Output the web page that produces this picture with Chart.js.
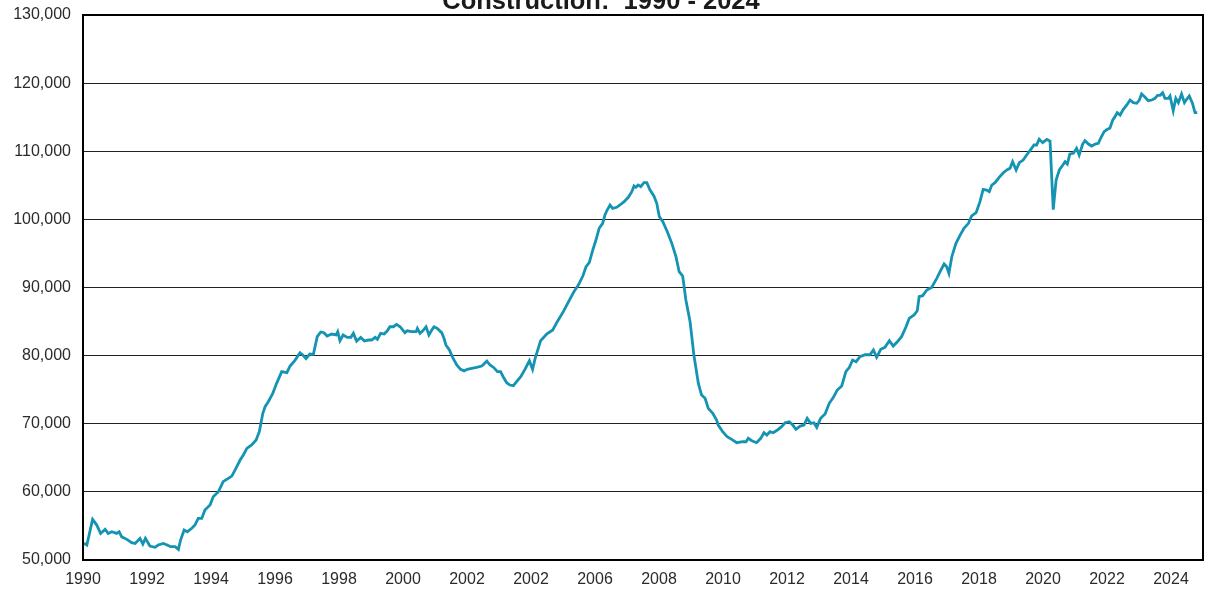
<!DOCTYPE html>
<html>
<head>
<meta charset="utf-8">
<title>Construction: 1990 - 2024</title>
<script src="https://cdn.jsdelivr.net/npm/chart.js@4.4.1/dist/chart.umd.min.js"></script>
<style>
  body { margin: 0; background: #fff; }
  #wrap { width: 1217px; height: 592px; }
</style>
</head>
<body>
<div id="wrap"><canvas id="myChart" width="1217" height="592"></canvas></div>
<script>
// construction employment, thousands of jobs
const years = [
  1990.03, 1990.12, 1990.30, 1990.43, 1990.55, 1990.69, 1990.79, 1990.90, 1991.05, 1991.13,
  1991.21, 1991.37, 1991.52, 1991.63, 1991.78, 1991.87, 1991.95, 1992.09, 1992.25, 1992.35,
  1992.51, 1992.63, 1992.74, 1992.88, 1992.98, 1993.05, 1993.16, 1993.26, 1993.40, 1993.50,
  1993.60, 1993.71, 1993.81, 1993.97, 1994.07, 1994.23, 1994.38, 1994.54, 1994.65, 1994.75,
  1994.91, 1995.01, 1995.12, 1995.27, 1995.41, 1995.51, 1995.62, 1995.69, 1995.79, 1995.93,
  1996.05, 1996.21, 1996.37, 1996.47, 1996.63, 1996.78, 1996.87, 1996.97, 1997.09, 1997.20,
  1997.32, 1997.43, 1997.53, 1997.63, 1997.77, 1997.91, 1997.96, 1998.03, 1998.13, 1998.26,
  1998.37, 1998.45, 1998.55, 1998.68, 1998.79, 1998.92, 1999.02, 1999.13, 1999.20, 1999.30,
  1999.41, 1999.51, 1999.59, 1999.70, 1999.80, 1999.91, 2000.06, 2000.13, 2000.27, 2000.41,
  2000.45, 2000.53, 2000.62, 2000.72, 2000.81, 2000.90, 2000.97, 2001.07, 2001.21, 2001.28,
  2001.34, 2001.45, 2001.55, 2001.68, 2001.80, 2001.91, 2002.01, 2002.15, 2002.30, 2002.46,
  2002.53, 2002.62, 2002.72, 2002.84, 2002.95, 2003.05, 2003.13, 2003.24, 2003.34, 2003.45,
  2003.55, 2003.68, 2003.81, 2003.95, 2004.05, 2004.13, 2004.30, 2004.49, 2004.68, 2004.82,
  2005.01, 2005.20, 2005.34, 2005.48, 2005.62, 2005.72, 2005.82, 2005.93, 2006.03, 2006.13,
  2006.24, 2006.31, 2006.38, 2006.47, 2006.55, 2006.68, 2006.78, 2006.91, 2007.04, 2007.15,
  2007.22, 2007.28, 2007.35, 2007.43, 2007.53, 2007.62, 2007.72, 2007.84, 2007.93, 2008.01,
  2008.12, 2008.26, 2008.40, 2008.53, 2008.63, 2008.74, 2008.84, 2008.97, 2009.09, 2009.23,
  2009.33, 2009.44, 2009.54, 2009.68, 2009.80, 2009.85, 2009.99, 2010.13, 2010.27, 2010.43,
  2010.62, 2010.72, 2010.79, 2010.90, 2011.05, 2011.18, 2011.28, 2011.37, 2011.47, 2011.57,
  2011.70, 2011.83, 2011.94, 2012.07, 2012.18, 2012.28, 2012.41, 2012.53, 2012.63, 2012.74,
  2012.84, 2012.93, 2013.05, 2013.19, 2013.32, 2013.45, 2013.57, 2013.71, 2013.84, 2013.95,
  2014.05, 2014.16, 2014.28, 2014.44, 2014.59, 2014.70, 2014.80, 2014.93, 2015.06, 2015.20,
  2015.32, 2015.45, 2015.58, 2015.72, 2015.82, 2015.97, 2016.07, 2016.13, 2016.24, 2016.37,
  2016.52, 2016.68, 2016.80, 2016.91, 2016.99, 2017.06, 2017.15, 2017.28, 2017.41, 2017.53,
  2017.67, 2017.77, 2017.91, 2018.03, 2018.13, 2018.24, 2018.32, 2018.40, 2018.50, 2018.63,
  2018.76, 2018.87, 2018.97, 2019.05, 2019.16, 2019.26, 2019.38, 2019.49, 2019.62, 2019.72,
  2019.80, 2019.88, 2019.99, 2020.12, 2020.22, 2020.32, 2020.41, 2020.51, 2020.62, 2020.69,
  2020.76, 2020.84, 2020.95, 2021.05, 2021.13, 2021.24, 2021.31, 2021.42, 2021.52, 2021.63,
  2021.73, 2021.80, 2021.91, 2022.01, 2022.09, 2022.18, 2022.25, 2022.32, 2022.41, 2022.51,
  2022.62, 2022.72, 2022.82, 2022.93, 2023.01, 2023.08, 2023.19, 2023.29, 2023.40, 2023.50,
  2023.58, 2023.66, 2023.74, 2023.81, 2023.92, 2023.97, 2024.07, 2024.15, 2024.23, 2024.33,
  2024.42, 2024.49, 2024.57, 2024.67, 2024.75, 2024.82
];

const jobs = [
  52450, 52200, 55970, 55130, 53900, 54500, 53900, 54150, 53900, 54150,
  53400, 53030, 52540, 52440, 53180, 52340, 53180, 52050, 51860, 52200,
  52440, 52200, 51950, 51950, 51560, 52930, 54400, 54150, 54650, 55130,
  56100, 56100, 57330, 58070, 59290, 60020, 61500, 61990, 62320, 63200,
  64670, 65410, 66390, 66880, 67610, 68830, 71530, 72500, 73230, 74460,
  75930, 77640, 77490, 78470, 79350, 80430, 80090, 79550, 80230, 80190,
  82780, 83470, 83370, 82880, 83170, 83030, 83510, 82190, 83030, 82680,
  82680, 83270, 82140, 82680, 82140, 82290, 82290, 82680, 82390, 83270,
  83170, 83650, 84240, 84240, 84590, 84240, 83370, 83650, 83510, 83510,
  84000, 83270, 83650, 84240, 83030, 83760, 84240, 84000, 83370, 82540,
  81560, 80820, 79750, 78620, 77990, 77740, 77990, 78140, 78280, 78470,
  78770, 79210, 78620, 78230, 77640, 77640, 76900, 76020, 75680, 75580,
  76170, 76900, 77990, 79250, 77990, 79600, 82190, 83170, 83760, 84980,
  86450, 88160, 89380, 90360, 91680, 93050, 93640, 95500, 96970, 98690,
  99420, 100640, 101370, 102110, 101620, 101770, 102110, 102600, 103240, 104060,
  104900, 104710, 105040, 104800, 105380, 105380, 104310, 103430, 102360, 100400,
  99660, 98190, 96480, 94520, 92320, 91680, 88160, 85000, 80100, 75930,
  74210, 73730, 72260, 71530, 70550, 69810, 68830, 68100, 67710, 67220,
  67360, 67360, 67860, 67510, 67220, 67860, 68680, 68340, 68830, 68680,
  69080, 69570, 70150, 70300, 69810, 69180, 69660, 69810, 70790, 70060,
  70150, 69470, 70790, 71430, 73000, 73880, 74950, 75540, 77640, 78280,
  79350, 79110, 79840, 80130, 80130, 80820, 79750, 80920, 81220, 82190,
  81410, 82040, 82780, 84240, 85470, 85960, 86590, 88650, 88800, 89630,
  90020, 91340, 92460, 93450, 93050, 92080, 94520, 96480, 97700, 98690,
  99420, 100510, 100980, 102600, 104410, 104310, 104060, 105040, 105380, 106170,
  106850, 107250, 107500, 108470, 107250, 108320, 108710, 109450, 110280, 110920,
  110920, 111780, 111260, 111750, 111480, 101420, 105780, 107250, 107980, 108470,
  108130, 109600, 109700, 110430, 109450, 111060, 111550, 111060, 110770, 111060,
  111160, 111900, 112870, 113220, 113370, 114590, 115080, 115660, 115320, 116160,
  116790, 117520, 117130, 117040, 117520, 118400, 117920, 117420, 117520, 117770,
  118210, 118210, 118590, 117770, 117770, 118110, 115950, 117770, 117130, 118400,
  117130, 117630, 118110, 117040, 115660, 115660
];

// the original has "2002" printed twice, keep it
const tickYears = [1990, 1992, 1994, 1996, 1998, 2000, 2002, 2004, 2006,
  2008, 2010, 2012, 2014, 2016, 2018, 2020, 2022, 2024];
const tickLabels = ['1990', '1992', '1994', '1996', '1998', '2000', '2002', '2002', '2006',
  '2008', '2010', '2012', '2014', '2016', '2018', '2020', '2022', '2024'];

const titleText = 'Construction:  1990 - 2024';

const points = years.map((y, i) => ({ x: y, y: jobs[i] }));

// frame round the plot area
const frame = {
  id: 'frame',
  afterDatasetsDraw(chart) {
    const a = chart.chartArea;
    const ctx = chart.ctx;
    ctx.save();
    ctx.strokeStyle = '#000';
    ctx.lineWidth = 2;
    ctx.strokeRect(a.left, a.top, a.right - a.left, a.bottom - a.top);
    ctx.restore();
  }
};

// title sits mostly above the top edge in the original, so draw it by hand
const topTitle = {
  id: 'topTitle',
  afterDraw(chart) {
    const ctx = chart.ctx;
    ctx.save();
    ctx.font = "bold 25.5px 'Liberation Sans', Arial, sans-serif";
    ctx.fillStyle = '#1a1a1a';
    ctx.textAlign = 'center';
    ctx.textBaseline = 'alphabetic';
    ctx.fillText(titleText, 601, 9);
    ctx.restore();
  }
};

const labelFont = { family: "'Liberation Sans', Arial, sans-serif", size: 16 };

const ctx = document.getElementById('myChart').getContext('2d');
const myChart = new Chart(ctx, {
  type: 'line',
  data: {
    datasets: [{
      label: 'Construction',
      data: points,
      borderColor: '#1493b3',
      borderWidth: 2.8,
      pointRadius: 0,
      tension: 0,
      fill: false
    }]
  },
  options: {
    responsive: false,
    animation: false,
    devicePixelRatio: 1,
    layout: { padding: { top: 15, right: 14, left: 0, bottom: 0 } },
    plugins: {
      legend: { display: false },
      tooltip: { enabled: false },
      title: { display: false }
    },
    scales: {
      x: {
        type: 'linear',
        min: 1990,
        max: 2025,
        grid: { display: false, drawTicks: false },
        border: { display: false },
        afterFit: function (scale) {
          scale.height = 32;
          scale.paddingLeft = 0;
          scale.paddingRight = 0;
        },
        afterBuildTicks: function (scale) {
          scale.ticks = tickYears.map(v => ({ value: v }));
        },
        ticks: {
          autoSkip: false,
          maxRotation: 0,
          padding: 10,
          color: '#2b2b2b',
          font: labelFont,
          callback: function (v) {
            return tickLabels[tickYears.indexOf(v)] || '';
          }
        }
      },
      y: {
        min: 50000,
        max: 130000,
        grid: { color: '#222', lineWidth: 1, drawTicks: false },
        border: { display: false },
        afterFit: function (scale) {
          scale.width = 83;
          scale.paddingTop = 0;
          scale.paddingBottom = 0;
        },
        ticks: {
          stepSize: 10000,
          padding: 12,
          color: '#2b2b2b',
          font: labelFont,
          callback: function (v) { return v.toLocaleString('en-US'); }
        }
      }
    }
  },
  plugins: [frame, topTitle]
});
</script>
</body>
</html>
